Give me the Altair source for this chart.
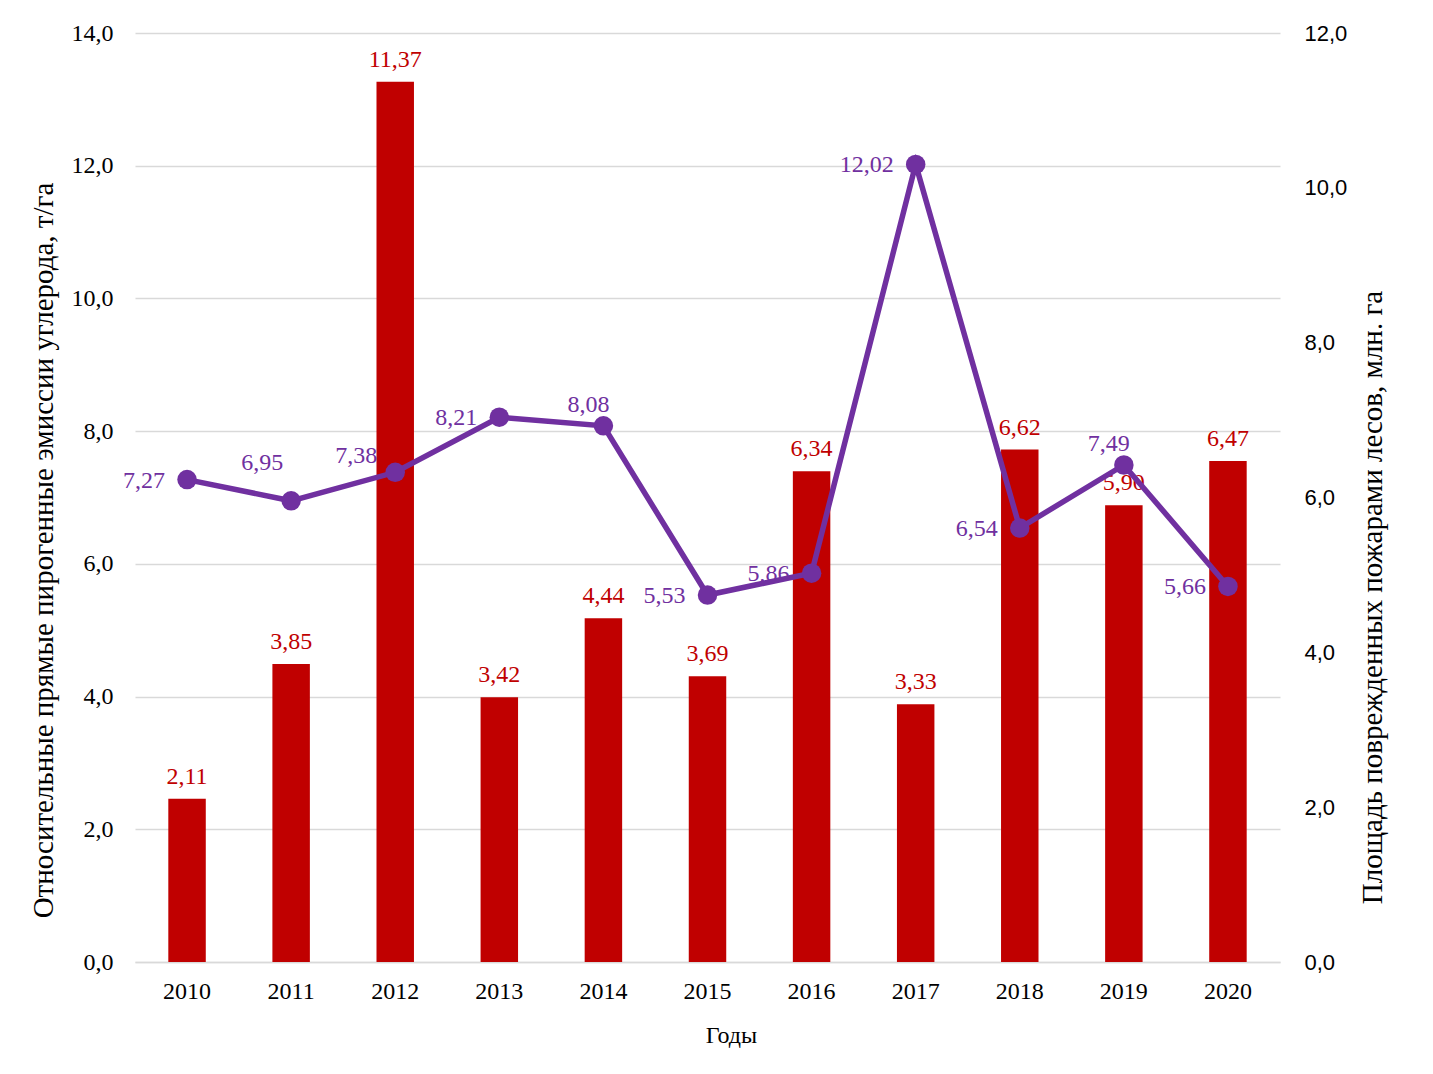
import altair as alt
import pandas as pd

years = ["2010", "2011", "2012", "2013", "2014", "2015", "2016", "2017", "2018", "2019", "2020"]
# Площадь поврежденных пожарами лесов, млн. га (bars, right axis)
area = [2.11, 3.85, 11.37, 3.42, 4.44, 3.69, 6.34, 3.33, 6.62, 5.90, 6.47]
# Относительные прямые пирогенные эмиссии углерода, т/га (line, left axis)
emission = [7.27, 6.95, 7.38, 8.21, 8.08, 5.53, 5.86, 12.02, 6.54, 7.49, 5.66]
# where each line label sits relative to its point
emission_label_pos = ["left", "high", "upleft", "left", "above", "left",
                      "left", "left", "left", "above", "left"]

left_ticks = [0, 2, 4, 6, 8, 10, 12, 14]
right_ticks = [0, 2, 4, 6, 8, 10, 12]

df = pd.DataFrame({"year": years, "area": area, "emission": emission,
                   "pos": emission_label_pos})

SERIF = "Liberation Serif"
SANS = "Liberation Sans"
RED = "#C00000"
PURPLE = "#7030A0"
FMT1 = "replace(format(datum.value, '.1f'), '.', ',')"

x_axis = alt.Axis(title="Годы", labelAngle=0, labelFont=SERIF, labelFontSize=24,
                  labelColor="black", labelPadding=17, ticks=False,
                  domain=True, domainColor="#D9D9D9", domainWidth=1.5,
                  titleFont=SERIF, titleFontSize=24, titleFontWeight="normal",
                  titleColor="black", titleX=596, titleY=73,
                  titleBaseline="middle", titleAlign="center")
x_scale = alt.Scale(paddingInner=0.64, paddingOuter=0.32)
x = alt.X("year:N", sort=years, scale=x_scale, axis=x_axis)

base = alt.Chart(df).transform_calculate(
    area_lbl="replace(format(datum.area, '.2f'), '.', ',')",
    em_lbl="replace(format(datum.emission, '.2f'), '.', ',')",
)

yr_scale = alt.Scale(domain=[0, 12], nice=False, zero=True)
yl_scale = alt.Scale(domain=[0, 14], nice=False, zero=True)

right_axis = alt.Axis(orient="right", values=right_ticks, grid=False, ticks=False,
                      domain=False, labelExpr=FMT1, labelFont=SANS, labelFontSize=22,
                      labelColor="black", labelPadding=24,
                      title="Площадь поврежденных пожарами лесов, млн. га",
                      titleFont=SERIF, titleFontSize=29, titleFontWeight="normal",
                      titleColor="black", titleAngle=270, titleX=92, titleY=564,
                      titleAlign="center", titleBaseline="middle")
left_axis = alt.Axis(orient="left", values=left_ticks, grid=True, gridColor="#D9D9D9",
                     gridWidth=1.5, ticks=False, domain=False, labelExpr=FMT1,
                     labelFont=SERIF, labelFontSize=24, labelColor="black",
                     labelPadding=22,
                     title="Относительные прямые пирогенные эмиссии углерода, т/га",
                     titleFont=SERIF, titleFontSize=29, titleFontWeight="normal",
                     titleColor="black", titleAngle=270, titleX=-92, titleY=517,
                     titleAlign="center", titleBaseline="middle")

yr = alt.Y("area:Q", scale=yr_scale, axis=right_axis)
yl = alt.Y("emission:Q", scale=yl_scale, axis=left_axis)

bars = base.mark_bar(color=RED).encode(x=x, y=yr)
bar_text = base.mark_text(color=RED, font=SERIF, fontSize=24, baseline="alphabetic",
                          align="center", dy=-15).encode(x=x, y=yr, text="area_lbl:N")
right_layer = alt.layer(bars, bar_text)

line = base.mark_line(color=PURPLE, strokeWidth=5.5).encode(x=x, y=yl)
points = base.mark_circle(color=PURPLE, size=380, opacity=1).encode(x=x, y=yl)

placements = {
    "left": ("right", -22, 1),
    "upleft": ("right", -18, -16),
    "above": ("center", -15, -21),
    "high": ("center", -29, -38),
}
label_layers = []
for name, (align, dx, dy) in placements.items():
    label_layers.append(
        base.transform_filter(alt.datum.pos == name).mark_text(
            color=PURPLE, font=SERIF, fontSize=24, baseline="middle",
            align=align, dx=dx, dy=dy).encode(x=x, y=yl, text="em_lbl:N"))

left_layer = alt.layer(line, points, *label_layers)

chart = alt.layer(right_layer, left_layer).resolve_scale(y="independent").properties(
    width=1145, height=929,
    background="white",
    autosize=alt.AutoSizeParams(type="none"),
    padding={"left": 135, "top": 33, "right": 153, "bottom": 112},
).configure_view(stroke=None)

chart.save("out.html", embed_options={"renderer": "svg", "actions": False})
